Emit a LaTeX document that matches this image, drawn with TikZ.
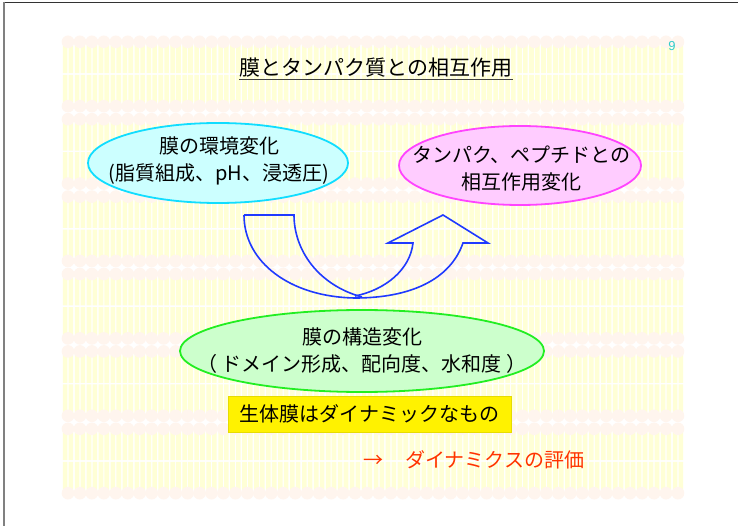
\documentclass[tikz,border=0pt]{standalone}
\usepackage{fontspec}
\setmainfont{Noto Sans CJK JP}
\newfontfamily\latinsans{Liberation Sans}
\usetikzlibrary{shapes.geometric}
\definecolor{headc}{RGB}{255,245,238}
\definecolor{tailc}{RGB}{255,255,214}
\definecolor{cyanfill}{RGB}{204,255,255}
\definecolor{cyanline}{RGB}{17,221,255}
\definecolor{magfill}{RGB}{255,204,255}
\definecolor{magline}{RGB}{255,68,255}
\definecolor{grnfill}{RGB}{204,255,204}
\definecolor{grnline}{RGB}{34,238,34}
\definecolor{arrowc}{RGB}{31,58,255}
\definecolor{redtxt}{RGB}{255,51,0}
\definecolor{pagec}{RGB}{51,204,204}
\definecolor{boxline}{RGB}{230,220,0}
\tikzset{
  jptext/.style={font=\fontsize{20}{27}\selectfont, align=center, text=black, inner sep=0pt},
  bubble/.style={ellipse, draw, line width=1.8pt, inner sep=0pt},
  uarrow/.style={draw=arrowc, line width=1.6pt, line join=miter},
}
\begin{document}
\begin{tikzpicture}[x=1pt, y=-1pt]
\useasboundingbox (0,0) rectangle (738,526);
\fill[white] (0,0) rectangle (738,526);
% frame
\draw[black!80, line width=1pt] (3,2.5) -- (738,2.5);
\draw[black!50, line width=2pt] (4,2) -- (4,526);
% lipid bilayer background
\foreach \c in {0,...,51} {
  \pgfmathsetmacro\xl{62+\c*11.96}
  \foreach \k in {0,...,5} {
    \pgfmathsetmacro\w{74+\k*77.4}
    \fill[tailc] (\xl+0.8,\w-32.2) rectangle (\xl+5.4,\w-0.8)
                 (\xl+6.6,\w-32.2) rectangle (\xl+11.2,\w-0.8)
                 (\xl+0.8,\w+0.8) rectangle (\xl+5.4,\w+32.2)
                 (\xl+6.6,\w+0.8) rectangle (\xl+11.2,\w+32.2);
    \fill[headc] (\xl+5.98,\w-32.2) circle[radius=6.3]
                 (\xl+5.98,\w+32.2) circle[radius=6.3];
  }
}
% page number
\node[font=\latinsans\fontsize{13}{14}\selectfont, text=pagec] (pnum) at (672,46) {9};
% title
\node[inner sep=0pt, font=\fontsize{21}{24}\selectfont] (title) at (376,68) {膜とタンパク質との相互作用};
\draw[black!75, line width=1.5pt] ([yshift=-1.5pt]title.south west) -- ([yshift=-1.5pt]title.south east);
% bubbles
\node[bubble, draw=cyanline, fill=cyanfill, minimum width=260pt, minimum height=80pt] (env) at (218,163) {};
\node[jptext] (envtxt) at (219,160.5) {膜の環境変化\\(脂質組成、pH、浸透圧)};
\node[bubble, draw=magline, fill=magfill, minimum width=242pt, minimum height=79pt] (inter) at (520,165.5) {};
\node[jptext] (intertxt) at (521,169) {タンパク、ペプチドとの\\相互作用変化};
\node[bubble, draw=grnline, fill=grnfill, minimum width=364pt, minimum height=82pt] (struct) at (362,351) {};
\node[jptext] (structtxt) at (362,351) {膜の構造変化\\（\hspace{5pt}ドメイン形成、配向度、水和度\hspace{5pt}）};
% curved up arrow
\draw[uarrow] (244,215) -- (294,215) .. controls (294,250) and (318,285) .. (362,297);
\draw[uarrow] (244,215) .. controls (244,262) and (290,297) .. (355,298)
  .. controls (410,298) and (450,280) .. (463,243) -- (488,243) -- (443,215)
  -- (388,243) -- (413,243) .. controls (410,270) and (385,290) .. (355,296);
% yellow box
\node[draw=boxline, fill=yellow, line width=1pt, minimum width=283pt, minimum height=36pt, jptext] (dyn) at (369.5,414) {生体膜はダイナミックなもの};
% red text
\node[anchor=west, inner sep=0pt, font=\fontsize{20}{24}\selectfont, text=redtxt] (eval) at (363,460) {→\hspace{22pt}ダイナミクスの評価};
\end{tikzpicture}
\end{document}
